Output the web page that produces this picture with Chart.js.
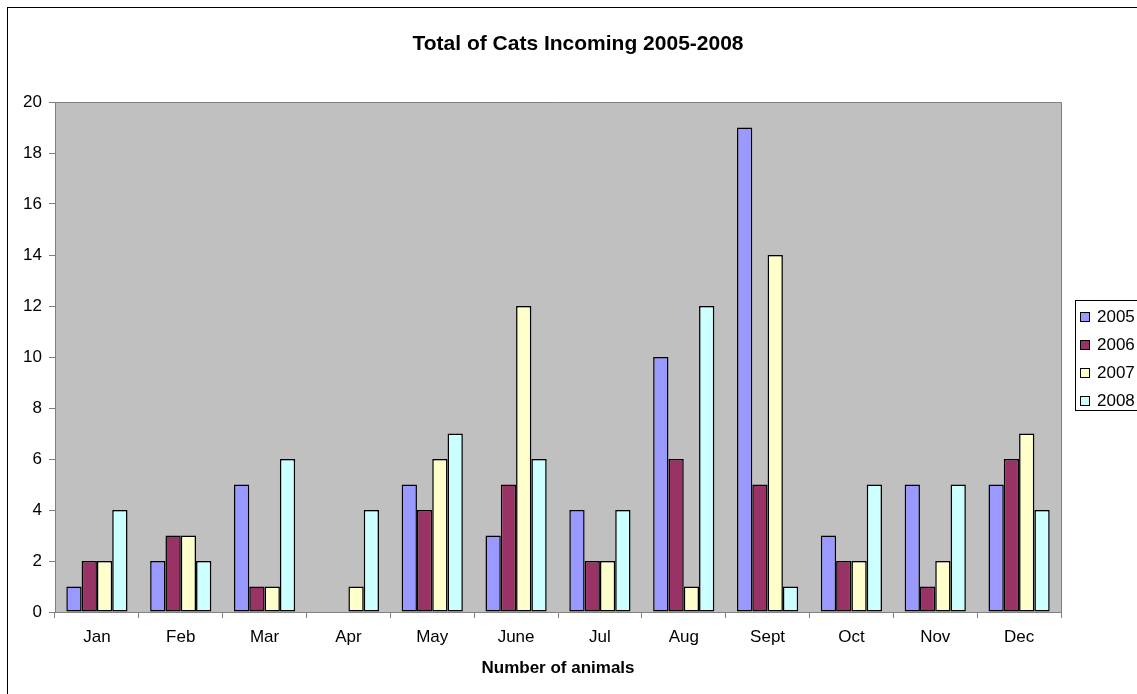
<!DOCTYPE html>
<html>
<head>
<meta charset="utf-8">
<script src="https://cdn.jsdelivr.net/npm/chart.js@4.4.1/dist/chart.umd.min.js"></script>
<style>
html,body{margin:0;padding:0;background:#fff;}
canvas{display:block;}
</style>
</head>
<body>
<canvas id="c" width="1137" height="694"></canvas>
<script>
const categories = ['Jan','Feb','Mar','Apr','May','June','Jul','Aug','Sept','Oct','Nov','Dec'];
const seriesNames = ['2005','2006','2007','2008'];
const values2005 = [1,2,5,0,5,3,4,10,19,3,5,5];
const values2006 = [2,3,1,0,4,5,2,6,5,2,1,6];
const values2007 = [2,3,1,1,6,12,2,1,14,2,2,7];
const values2008 = [4,2,6,4,7,6,4,12,1,5,5,4];
const yTicks = [0,2,4,6,8,10,12,14,16,18,20];
const chartTitle = 'Total of Cats Incoming 2005-2008';
const colors = ['#9999FF','#993366','#FFFFCC','#CCFFFF'];
const FONT = '"Liberation Sans", Arial, sans-serif';

const frame = {
  id: 'frame',
  beforeDraw(chart) {
    const ctx = chart.ctx, a = chart.chartArea;
    ctx.save();
    ctx.fillStyle = '#C0C0C0';
    ctx.fillRect(a.left, a.top, a.right - a.left, a.bottom - a.top);
    ctx.restore();
  },
  afterDraw(chart) {
    const ctx = chart.ctx, a = chart.chartArea;
    ctx.save();
    ctx.strokeStyle = '#808080';
    ctx.lineWidth = 1;
    ctx.beginPath();
    ctx.moveTo(Math.round(a.left) + 0.5, Math.round(a.top) + 0.5);
    ctx.lineTo(Math.round(a.right) + 0.5, Math.round(a.top) + 0.5);
    ctx.lineTo(Math.round(a.right) + 0.5, Math.round(a.bottom) + 0.5);
    ctx.stroke();
    // outer chart frame
    ctx.strokeStyle = '#000';
    ctx.strokeRect(7.5, 7.5, 1200, 800);
    // title
    ctx.fillStyle = '#000';
    ctx.font = 'bold 21px ' + FONT;
    ctx.textAlign = 'center';
    ctx.textBaseline = 'alphabetic';
    ctx.fillText(chartTitle, 578, 50);
    // legend
    const lx = 1075, ly = 300, lh = 110;
    ctx.fillStyle = '#fff';
    ctx.fillRect(lx + 0.5, ly + 0.5, 100, lh);
    ctx.strokeStyle = '#000';
    ctx.strokeRect(lx + 0.5, ly + 0.5, 100, lh);
    ctx.font = '17px ' + FONT;
    ctx.textAlign = 'left';
    chart.data.datasets.forEach((ds, i) => {
      const base = 322 + i * 28;
      ctx.fillStyle = ds.backgroundColor;
      ctx.fillRect(1080.5, base - 9.5, 9, 9);
      ctx.strokeStyle = '#000';
      ctx.strokeRect(1080.5, base - 9.5, 9, 9);
      ctx.fillStyle = '#000';
      ctx.fillText(ds.label, 1097, base);
    });
    ctx.restore();
  }
};

const datasets = [values2005, values2006, values2007, values2008].map((v, i) => ({
  label: seriesNames[i],
  data: v,
  backgroundColor: colors[i],
  borderColor: '#000',
  borderWidth: 1.5,
  borderSkipped: false,
  categoryPercentage: 0.73,
  barPercentage: 1.0
}));

new Chart(document.getElementById('c'), {
  type: 'bar',
  data: { labels: categories, datasets },
  options: {
    responsive: false,
    animation: false,
    layout: { padding: { left: 8, right: 76, top: 102, bottom: 0 } },
    plugins: {
      legend: { display: false },
      tooltip: { enabled: false },
      title: { display: false }
    },
    scales: {
      x: {
        grid: { offset: true, drawOnChartArea: false, drawTicks: true, tickLength: 6, color: '#808080' },
        border: { display: true, color: '#808080' },
        ticks: { color: '#000', font: { family: FONT, size: 17 }, padding: 9, maxRotation: 0, autoSkip: false },
        title: {
          display: true,
          text: 'Number of animals',
          color: '#000',
          font: { family: FONT, size: 17, weight: 'bold' },
          padding: { top: 4, bottom: 15.5 }
        },
        afterFit(s) { s.height = 82; }
      },
      y: {
        min: 0, max: 20,
        afterBuildTicks(s) { s.ticks = yTicks.map(v => ({ value: v })); },
        grid: { drawOnChartArea: false, drawTicks: true, tickLength: 6, color: '#808080' },
        border: { display: true, color: '#808080' },
        ticks: { color: '#000', font: { family: FONT, size: 17 }, padding: 7 },
        afterFit(s) { s.width = 47; }
      }
    }
  },
  plugins: [frame]
});
</script>
</body>
</html>
